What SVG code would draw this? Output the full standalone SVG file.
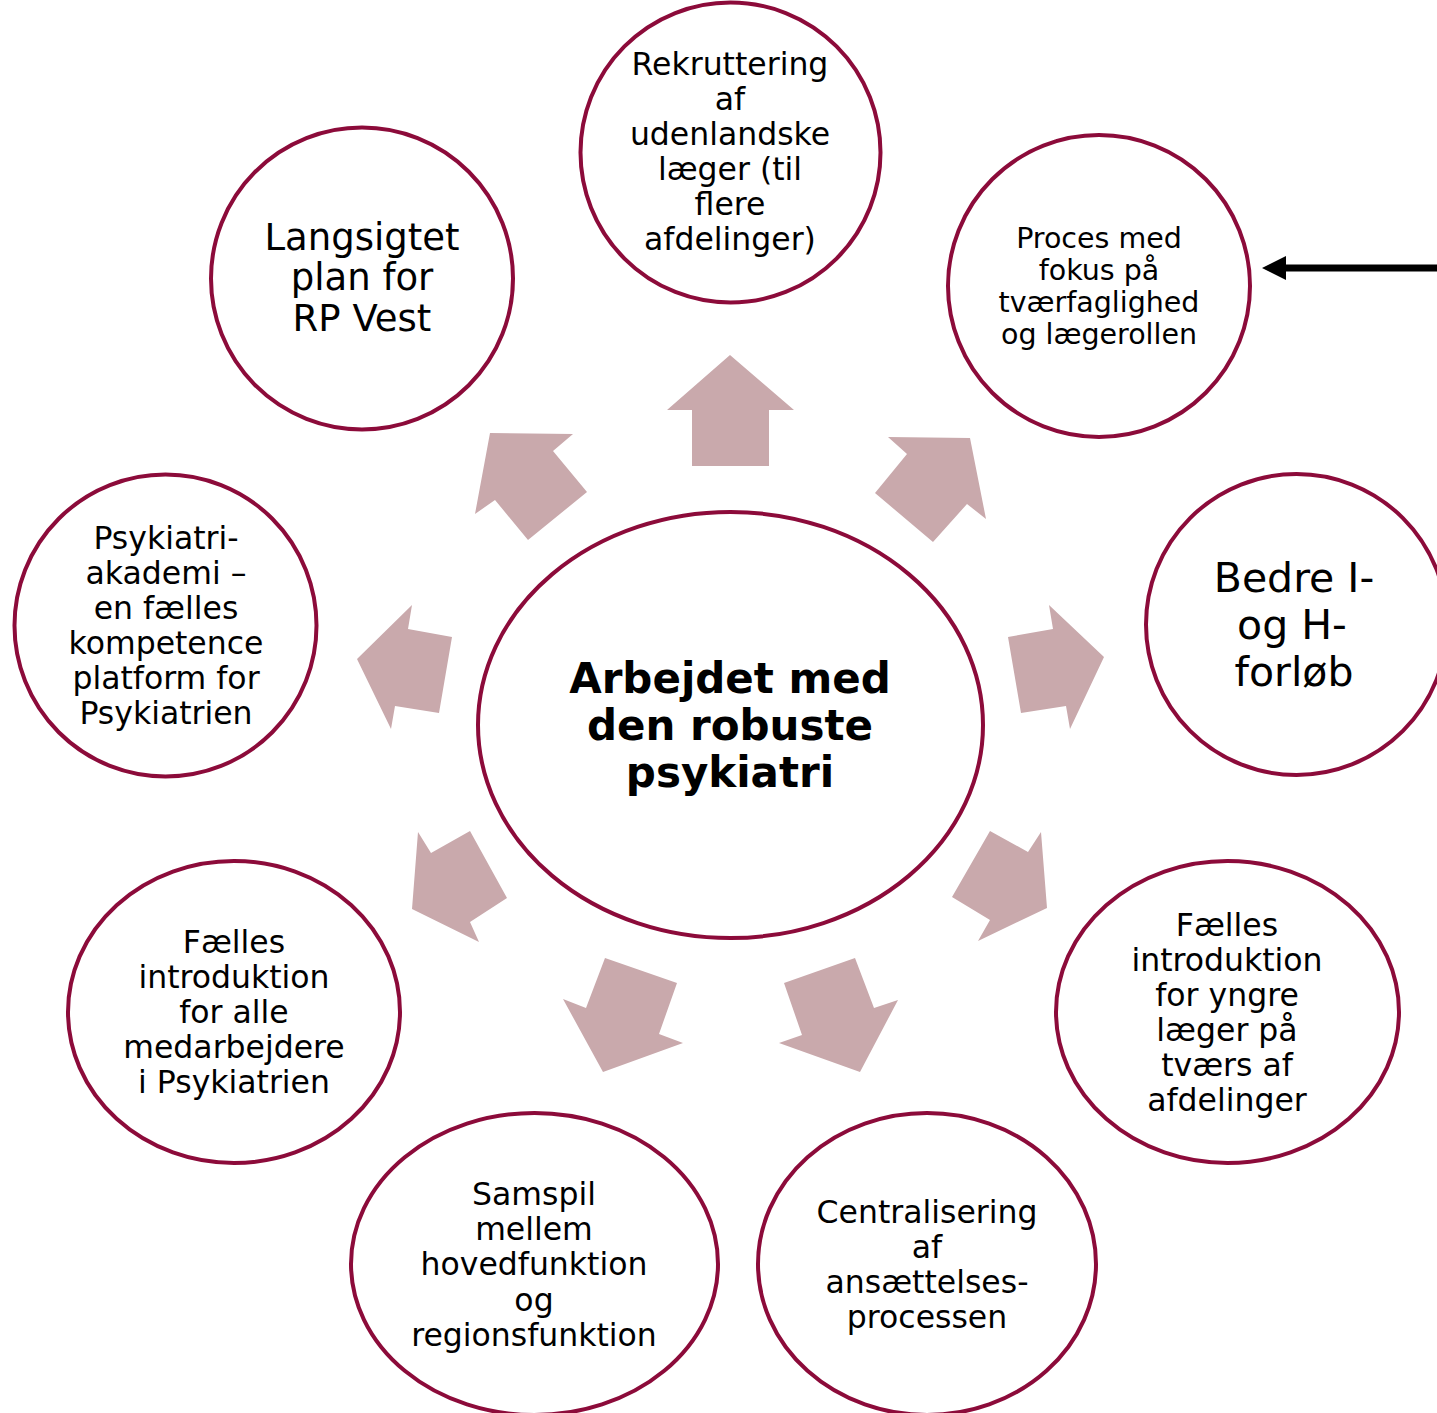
<svg xmlns="http://www.w3.org/2000/svg" width="1437" height="1413" viewBox="0 0 1437 1413">
<style>
.node{fill:#fff;stroke:#8C0B3A;stroke-width:4}
.blk{fill:#C9A9AC}
text{font-family:"DejaVu Sans","Liberation Sans",sans-serif;fill:#000;text-anchor:middle}
.t31{font-size:31.5px}
.t28{font-size:28.5px}
.t37{font-size:37px}
.t42{font-size:41px}
.ctr{font-size:42px;font-weight:bold}
</style>
<defs>
<marker id="ah" markerWidth="24" markerHeight="24" refX="0" refY="12" orient="auto" markerUnits="userSpaceOnUse">
<path d="M0,0 L24,12 L0,24 Z" fill="#000"/>
</marker>
</defs>
<rect width="1437" height="1413" fill="#fff"/>
<g id="connectors">
<polygon class="blk" points="692,466 692,410 667,410 730,355 794,410 769,410 769,466"/>
<polygon class="blk" points="875,493 907,454 888,437 970,438 986,519 967,504 933,542"/>
<polygon class="blk" points="490,433 573,434 553,451 587,492 528,540 495,500 475,514"/>
<polygon class="blk" points="1008,637 1053,629 1049,605 1104,657 1070,729 1066,706 1021,713"/>
<polygon class="blk" points="357,659 412,605 408,629 452,637 439,713 395,706 391,729"/>
<polygon class="blk" points="990,831 1028,852 1041,832 1047,908 978,941 990,920 952,897"/>
<polygon class="blk" points="418,832 431,853 470,831 507,898 470,922 479,942 412,909"/>
<polygon class="blk" points="605,958 677,983 659,1034 683,1043 603,1072 563,999 586,1008"/>
<polygon class="blk" points="784,983 855,958 874,1008 898,1000 860,1072 779,1043 802,1035"/>
<path d="M1437,268 H1286" stroke="#000" stroke-width="7" fill="none" marker-end="url(#ah)"/>
</g>
<g id="center">
<ellipse class="node" cx="730.5" cy="725" rx="252.5" ry="213"/>
<text class="ctr" x="730" y="693">Arbejdet med</text>
<text class="ctr" x="730" y="740">den robuste</text>
<text class="ctr" x="730" y="787">psykiatri</text>
</g>
<g id="n-rekruttering">
<circle class="node" cx="730.5" cy="152.5" r="150"/>
<text class="t31" x="730" y="75">Rekruttering</text>
<text class="t31" x="730" y="110">af</text>
<text class="t31" x="730" y="145">udenlandske</text>
<text class="t31" x="730" y="180">læger (til</text>
<text class="t31" x="730" y="215">flere</text>
<text class="t31" x="730" y="250">afdelinger)</text>
</g>
<g id="n-proces">
<circle class="node" cx="1099" cy="286" r="151"/>
<text class="t28" x="1099" y="248">Proces med</text>
<text class="t28" x="1099" y="280">fokus på</text>
<text class="t28" x="1099" y="312">tværfaglighed</text>
<text class="t28" x="1099" y="344">og lægerollen</text>
</g>
<g id="n-bedre">
<circle class="node" cx="1296.5" cy="624.5" r="150.5"/>
<text class="t42" x="1294" y="592">Bedre I-</text>
<text class="t42" x="1292" y="639">og H-</text>
<text class="t42" x="1294" y="686">forløb</text>
</g>
<g id="n-intro-yngre">
<ellipse class="node" cx="1227.5" cy="1012" rx="171.5" ry="151"/>
<text class="t31" x="1227" y="936">Fælles</text>
<text class="t31" x="1227" y="971">introduktion</text>
<text class="t31" x="1227" y="1006">for yngre</text>
<text class="t31" x="1227" y="1041">læger på</text>
<text class="t31" x="1227" y="1076">tværs af</text>
<text class="t31" x="1227" y="1111">afdelinger</text>
</g>
<g id="n-centralisering">
<ellipse class="node" cx="927" cy="1264" rx="169" ry="151"/>
<text class="t31" x="927" y="1223">Centralisering</text>
<text class="t31" x="927" y="1258">af</text>
<text class="t31" x="927" y="1293">ansættelses-</text>
<text class="t31" x="927" y="1328">processen</text>
</g>
<g id="n-samspil">
<ellipse class="node" cx="534.5" cy="1264" rx="183.5" ry="151"/>
<text class="t31" x="534" y="1205">Samspil</text>
<text class="t31" x="534" y="1240">mellem</text>
<text class="t31" x="534" y="1275">hovedfunktion</text>
<text class="t31" x="534" y="1311">og</text>
<text class="t31" x="534" y="1346">regionsfunktion</text>
</g>
<g id="n-intro-alle">
<ellipse class="node" cx="234" cy="1012" rx="166" ry="151"/>
<text class="t31" x="234" y="953">Fælles</text>
<text class="t31" x="234" y="988">introduktion</text>
<text class="t31" x="234" y="1023">for alle</text>
<text class="t31" x="234" y="1058">medarbejdere</text>
<text class="t31" x="234" y="1093">i Psykiatrien</text>
</g>
<g id="n-akademi">
<circle class="node" cx="165.5" cy="625.5" r="151"/>
<text class="t31" x="166" y="549">Psykiatri-</text>
<text class="t31" x="166" y="584">akademi –</text>
<text class="t31" x="166" y="619">en fælles</text>
<text class="t31" x="166" y="654">kompetence</text>
<text class="t31" x="166" y="689">platform for</text>
<text class="t31" x="166" y="724">Psykiatrien</text>
</g>
<g id="n-langsigtet">
<circle class="node" cx="362" cy="278.5" r="151"/>
<text class="t37" x="362" y="250">Langsigtet</text>
<text class="t37" x="362" y="290">plan for</text>
<text class="t37" x="362" y="331">RP Vest</text>
</g>
</svg>
